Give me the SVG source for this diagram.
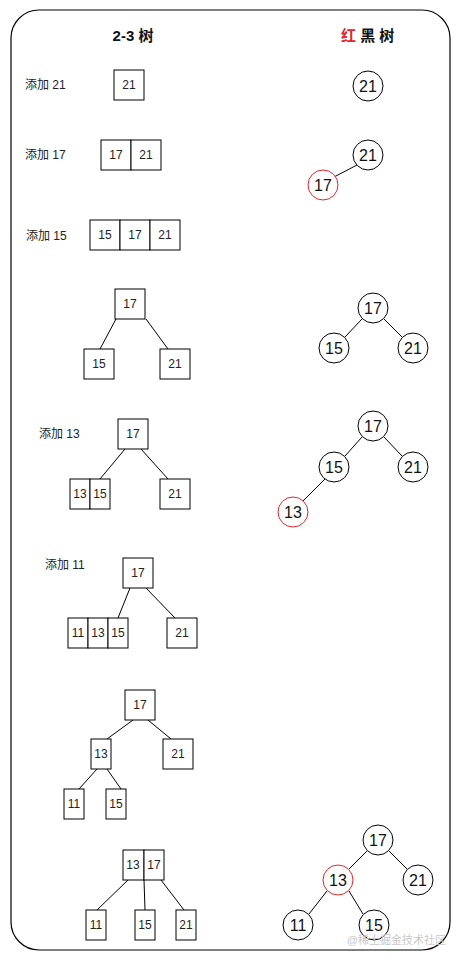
<svg xmlns="http://www.w3.org/2000/svg" width="462" height="961" viewBox="0 0 462 961">
<style>
.b{fill:#fff;stroke:#000;stroke-width:1}
.c{fill:#fff;stroke:#000;stroke-width:1}
.r{fill:#fff;stroke:#e0262b;stroke-width:1}
.t{font-family:"Liberation Sans","Noto Sans CJK SC",sans-serif;font-size:12px;fill:#222;text-anchor:middle;dominant-baseline:central}
.ct{font-family:"Liberation Sans","Noto Sans CJK SC",sans-serif;font-size:16px;fill:#111;text-anchor:middle;dominant-baseline:central}
.lbl{font-family:"Liberation Sans","Noto Sans CJK SC",sans-serif;font-size:12px;fill:#222;dominant-baseline:central}
.h{font-family:"Liberation Sans","Noto Sans CJK SC",sans-serif;font-size:15px;font-weight:bold;fill:#111;dominant-baseline:central}
.e{stroke:#000;stroke-width:1;fill:none}
</style>
<rect x="11" y="10" width="439" height="940" rx="28" ry="28" fill="#fff" stroke="#000" stroke-width="1.2"/>
<g id="titles">
<text class="h" x="133" y="35" text-anchor="middle">2-3 树</text>
<text class="h" x="341" y="35"><tspan fill="#e0262b">红</tspan> 黑 树</text>
</g>
<g id="labels">
<text class="lbl" x="25" y="85">添加 21</text>
<text class="lbl" x="25" y="155">添加 17</text>
<text class="lbl" x="26" y="236">添加 15</text>
<text class="lbl" x="39" y="434">添加 13</text>
<text class="lbl" x="45" y="565">添加 11</text>
</g>
<g id="connectors">
<line class="e" x1="357" y1="165" x2="334" y2="177"/>
<line class="e" x1="116" y1="319" x2="100" y2="349"/>
<line class="e" x1="146" y1="319" x2="168" y2="349"/>
<line class="e" x1="362" y1="319" x2="345" y2="337"/>
<line class="e" x1="384" y1="319" x2="402" y2="337"/>
<line class="e" x1="125" y1="449" x2="100" y2="479"/>
<line class="e" x1="141" y1="449" x2="168" y2="479"/>
<line class="e" x1="362" y1="437" x2="345" y2="456"/>
<line class="e" x1="384" y1="437" x2="402" y2="456"/>
<line class="e" x1="325" y1="479" x2="303" y2="501"/>
<line class="e" x1="130" y1="588" x2="118" y2="618"/>
<line class="e" x1="146" y1="588" x2="175" y2="618"/>
<line class="e" x1="133" y1="720" x2="107" y2="739"/>
<line class="e" x1="148" y1="720" x2="171" y2="739"/>
<line class="e" x1="97" y1="769" x2="79" y2="789"/>
<line class="e" x1="107" y1="769" x2="121" y2="789"/>
<line class="e" x1="128" y1="880" x2="97" y2="910"/>
<line class="e" x1="144" y1="880" x2="145" y2="910"/>
<line class="e" x1="161" y1="880" x2="184" y2="910"/>
<line class="e" x1="367" y1="851" x2="349" y2="869"/>
<line class="e" x1="389" y1="851" x2="407" y2="869"/>
<line class="e" x1="327" y1="891" x2="309" y2="914"/>
<line class="e" x1="349" y1="891" x2="363" y2="914"/>
</g>
<g id="t21a"><rect class="b" x="114" y="70" width="30" height="30"/><text class="t" x="129" y="85">21</text></g>
<g id="t1721"><rect class="b" x="101" y="140" width="30" height="30"/><text class="t" x="116" y="155">17</text><rect class="b" x="131" y="140" width="30" height="30"/><text class="t" x="146" y="155">21</text></g>
<g id="t151721"><rect class="b" x="90" y="220" width="30" height="30"/><text class="t" x="105" y="235">15</text><rect class="b" x="120" y="220" width="30" height="30"/><text class="t" x="135" y="235">17</text><rect class="b" x="150" y="220" width="30" height="30"/><text class="t" x="165" y="235">21</text></g>
<g id="t4"><rect class="b" x="115" y="289" width="30" height="30"/><text class="t" x="130" y="304">17</text><rect class="b" x="84" y="349" width="30" height="30"/><text class="t" x="99" y="364">15</text><rect class="b" x="160" y="349" width="30" height="30"/><text class="t" x="175" y="364">21</text></g>
<g id="t5"><rect class="b" x="118" y="419" width="30" height="30"/><text class="t" x="133" y="434">17</text><rect class="b" x="70" y="479" width="20" height="30"/><text class="t" x="80" y="494">13</text><rect class="b" x="90" y="479" width="20" height="30"/><text class="t" x="100" y="494">15</text><rect class="b" x="160" y="479" width="30" height="30"/><text class="t" x="175" y="494">21</text></g>
<g id="t6"><rect class="b" x="123" y="558" width="30" height="30"/><text class="t" x="138" y="573">17</text><rect class="b" x="68" y="618" width="20" height="30"/><text class="t" x="78" y="633">11</text><rect class="b" x="88" y="618" width="20" height="30"/><text class="t" x="98" y="633">13</text><rect class="b" x="108" y="618" width="20" height="30"/><text class="t" x="118" y="633">15</text><rect class="b" x="167" y="618" width="30" height="30"/><text class="t" x="182" y="633">21</text></g>
<g id="t7"><rect class="b" x="125" y="690" width="30" height="30"/><text class="t" x="140" y="705">17</text><rect class="b" x="91" y="739" width="20" height="30"/><text class="t" x="101" y="754">13</text><rect class="b" x="163" y="739" width="30" height="30"/><text class="t" x="178" y="754">21</text><rect class="b" x="64" y="789" width="20" height="30"/><text class="t" x="74" y="804">11</text><rect class="b" x="106" y="789" width="20" height="30"/><text class="t" x="116" y="804">15</text></g>
<g id="t8"><rect class="b" x="123" y="850" width="21" height="30"/><text class="t" x="133" y="865">13</text><rect class="b" x="144" y="850" width="20" height="30"/><text class="t" x="154" y="865">17</text><rect class="b" x="86" y="910" width="20" height="30"/><text class="t" x="96" y="925">11</text><rect class="b" x="135" y="910" width="20" height="30"/><text class="t" x="145" y="925">15</text><rect class="b" x="176" y="910" width="20" height="30"/><text class="t" x="186" y="925">21</text></g>
<g id="r1"><circle class="c" cx="368" cy="86" r="15"/><text class="ct" x="368" y="86">21</text></g>
<g id="r2"><circle class="c" cx="368" cy="155" r="15"/><text class="ct" x="368" y="155">21</text><circle class="r" cx="323" cy="185" r="15"/><text class="ct" x="323" y="185">17</text></g>
<g id="r4"><circle class="c" cx="373" cy="308" r="15"/><text class="ct" x="373" y="308">17</text><circle class="c" cx="334" cy="348" r="15"/><text class="ct" x="334" y="348">15</text><circle class="c" cx="413" cy="348" r="15"/><text class="ct" x="413" y="348">21</text></g>
<g id="r5"><circle class="c" cx="373" cy="426" r="15"/><text class="ct" x="373" y="426">17</text><circle class="c" cx="334" cy="467" r="15"/><text class="ct" x="334" y="467">15</text><circle class="c" cx="413" cy="467" r="15"/><text class="ct" x="413" y="467">21</text><circle class="r" cx="293" cy="512" r="15"/><text class="ct" x="293" y="512">13</text></g>
<g id="r8"><circle class="c" cx="378" cy="840" r="15"/><text class="ct" x="378" y="840">17</text><circle class="r" cx="338" cy="880" r="15"/><text class="ct" x="338" y="880">13</text><circle class="c" cx="418" cy="880" r="15"/><text class="ct" x="418" y="880">21</text><circle class="c" cx="298" cy="925" r="15"/><text class="ct" x="298" y="925">11</text><circle class="c" cx="374" cy="925" r="15"/><text class="ct" x="374" y="925">15</text></g>
<text x="446" y="940" text-anchor="end" font-family="'Liberation Sans','Noto Sans CJK SC',sans-serif" font-size="11" fill="#c8c8c8" dominant-baseline="central">@稀土掘金技术社区</text>
</svg>
